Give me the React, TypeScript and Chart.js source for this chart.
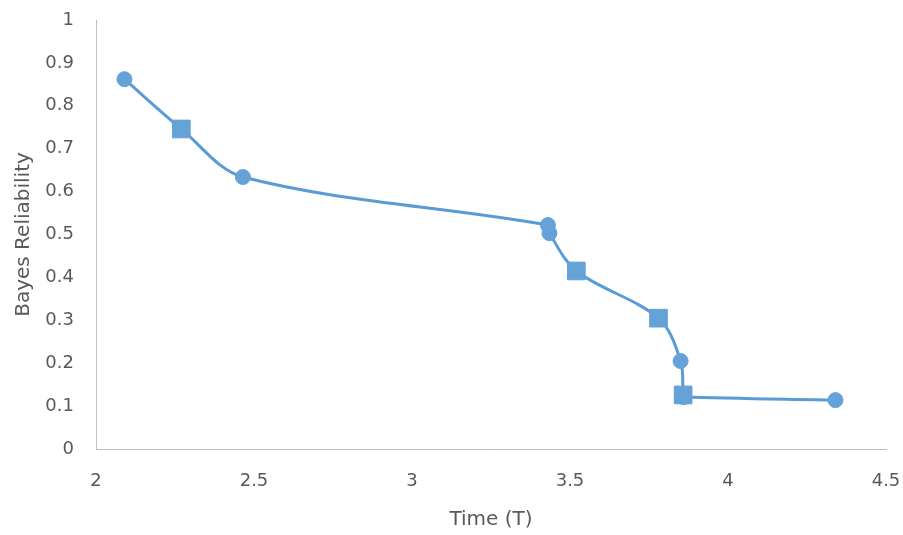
import React, { useEffect, useRef } from "react";
import { Chart, registerables } from "chart.js";

Chart.register(...registerables);

// Observation times and their Bayes reliability estimates
const timeValues = [2.09, 2.27, 2.465, 3.43, 3.435, 3.52, 3.78, 3.85, 3.858, 3.86, 4.34];
const reliability = [0.862, 0.746, 0.634, 0.522, 0.503, 0.415, 0.305, 0.205, 0.126, 0.121, 0.114];
const markerStyles = ["circle", "rect", "circle", "circle", "circle", "rect", "rect", "circle", "rect", "circle", "circle"];

const xTicks = [2, 2.5, 3, 3.5, 4, 4.5];
const yTicks = [0, 0.1, 0.2, 0.3, 0.4, 0.5, 0.6, 0.7, 0.8, 0.9, 1];

const LINE_BLUE = "#5b9bd5";
const MARKER_BLUE = "#64a2d8";
const AXIS = "#bfbfbf";
const TEXT = "#595959";
const FONT = "'DejaVu Sans', 'Open Sans', sans-serif";

// Let the layout padding alone decide the plot area edges
const noLabelOverflow = (s: any) => {
  s.paddingTop = 0;
  s.paddingBottom = 0;
  s.paddingLeft = 0;
  s.paddingRight = 0;
};

export default function App() {
  const canvasRef = useRef<HTMLCanvasElement | null>(null);

  useEffect(() => {
    if (!canvasRef.current) return;
    const points = timeValues.map((t, i) => ({ x: t, y: reliability[i] }));
    const chart = new Chart(canvasRef.current, {
      type: "line",
      data: {
        datasets: [
          {
            label: "Bayes Reliability",
            data: points,
            borderColor: LINE_BLUE,
            backgroundColor: LINE_BLUE,
            borderWidth: 3,
            tension: 0.33,
            pointStyle: markerStyles as any,
            pointRadius: markerStyles.map((s) => (s === "rect" ? 12.5 : 7.5)),
            pointBackgroundColor: MARKER_BLUE,
            pointBorderColor: MARKER_BLUE,
            pointBorderWidth: 1,
            fill: false,
          },
        ],
      },
      options: {
        animation: false,
        responsive: false,
        maintainAspectRatio: false,
        layout: { padding: { left: 0, right: 17, top: 20, bottom: 0 } },
        plugins: { legend: { display: false }, tooltip: { enabled: false } },
        scales: {
          x: {
            type: "linear",
            min: 2,
            max: 4.5,
            afterBuildTicks: (s: any) => {
              s.ticks = xTicks.map((v) => ({ value: v }));
            },
            afterFit: (s: any) => {
              s.height = 86;
              noLabelOverflow(s);
            },
            grid: { display: false, drawTicks: false },
            border: { display: true, color: AXIS, width: 1 },
            ticks: {
              color: TEXT,
              font: { family: FONT, size: 18 },
              padding: 22,
              maxRotation: 0,
              callback: (v: any) => String(v),
            },
            title: {
              display: true,
              text: "Time (T)",
              color: TEXT,
              font: { family: FONT, size: 20 },
              padding: { top: 0, bottom: 3 },
            },
          },
          y: {
            type: "linear",
            min: 0,
            max: 1,
            afterBuildTicks: (s: any) => {
              s.ticks = yTicks.map((v) => ({ value: v }));
            },
            afterFit: (s: any) => {
              s.width = 96;
              noLabelOverflow(s);
            },
            grid: { display: false, drawTicks: false },
            border: { display: true, color: AXIS, width: 1 },
            ticks: {
              color: TEXT,
              font: { family: FONT, size: 18 },
              padding: 22,
              callback: (v: any) => String(v),
            },
            title: {
              display: true,
              text: "Bayes Reliability",
              color: TEXT,
              font: { family: FONT, size: 20 },
              padding: { top: 12, bottom: 0 },
            },
          },
        },
      },
    });
    return () => chart.destroy();
  }, []);

  return (
    <div style={{ position: "fixed", left: 0, top: 0, width: 903, height: 535, background: "#fff" }}>
      <canvas ref={canvasRef} width={903} height={535} style={{ width: 903, height: 535 }} />
    </div>
  );
}
